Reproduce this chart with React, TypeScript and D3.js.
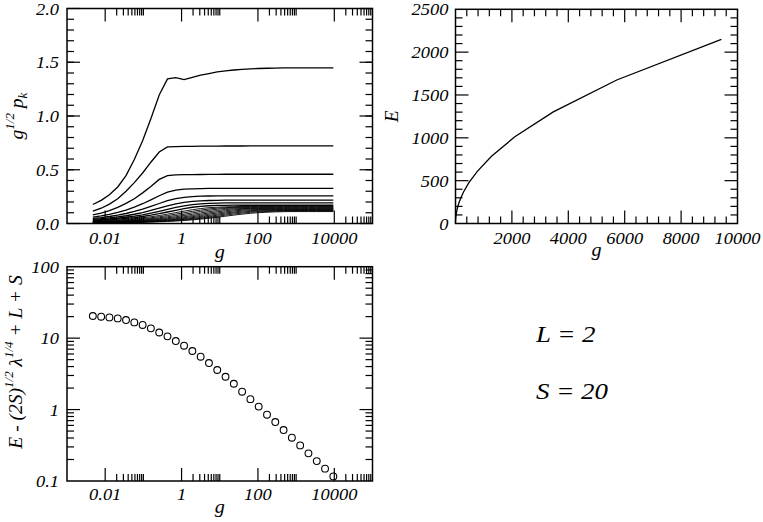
import React, { useEffect, useRef } from 'react';
import * as d3 from 'd3';

// coupling values shared by all three panels
const gValues = [
  0.00475, 0.00784, 0.0129, 0.0213, 0.0351, 0.0579, 0.0955, 0.157, 0.260, 0.428,
  0.706, 1.163, 1.918, 3.162, 5.213, 8.596, 14.17, 23.37, 38.52, 63.52,
  104.7, 172.7, 284.7, 469.4, 773.9, 1276, 2103, 3469, 5718, 9428,
];

// g^{1/2} p_k, one row per k
const pkCurves = [
  [0.177, 0.215, 0.268, 0.340, 0.445, 0.595, 0.770, 0.975, 1.195, 1.345, 1.357, 1.338, 1.360, 1.380, 1.395, 1.410, 1.420, 1.428, 1.434, 1.439, 1.442, 1.444, 1.446, 1.447, 1.447, 1.448, 1.448, 1.448, 1.448, 1.448],
  [0.115, 0.142, 0.180, 0.230, 0.300, 0.380, 0.470, 0.570, 0.665, 0.712, 0.716, 0.717, 0.718, 0.719, 0.720, 0.720, 0.721, 0.721, 0.721, 0.722, 0.722, 0.722, 0.722, 0.722, 0.722, 0.722, 0.722, 0.722, 0.722, 0.722],
  [0.080, 0.097, 0.120, 0.150, 0.187, 0.230, 0.285, 0.345, 0.410, 0.445, 0.452, 0.454, 0.455, 0.456, 0.457, 0.457, 0.458, 0.458, 0.458, 0.458, 0.458, 0.458, 0.458, 0.458, 0.458, 0.458, 0.458, 0.458, 0.458, 0.458],
  [0.060, 0.071, 0.085, 0.103, 0.125, 0.152, 0.184, 0.220, 0.258, 0.292, 0.311, 0.319, 0.323, 0.325, 0.326, 0.326, 0.326, 0.326, 0.326, 0.326, 0.326, 0.326, 0.326, 0.326, 0.326, 0.326, 0.326, 0.326, 0.326, 0.326],
  [0.047, 0.055, 0.065, 0.078, 0.093, 0.112, 0.134, 0.159, 0.186, 0.212, 0.231, 0.243, 0.250, 0.254, 0.256, 0.257, 0.257, 0.257, 0.257, 0.257, 0.257, 0.257, 0.257, 0.257, 0.257, 0.257, 0.257, 0.257, 0.257, 0.257],
  [0.038, 0.044, 0.052, 0.061, 0.072, 0.086, 0.102, 0.121, 0.142, 0.163, 0.182, 0.197, 0.206, 0.211, 0.214, 0.216, 0.217, 0.217, 0.217, 0.217, 0.217, 0.217, 0.217, 0.217, 0.217, 0.217, 0.217, 0.217, 0.217, 0.217],
  [0.031, 0.036, 0.042, 0.049, 0.058, 0.068, 0.081, 0.096, 0.113, 0.131, 0.149, 0.164, 0.176, 0.183, 0.187, 0.190, 0.191, 0.192, 0.192, 0.192, 0.192, 0.192, 0.192, 0.192, 0.192, 0.192, 0.192, 0.192, 0.192, 0.192],
  [0.025, 0.029, 0.034, 0.040, 0.047, 0.055, 0.065, 0.077, 0.091, 0.107, 0.123, 0.138, 0.151, 0.160, 0.165, 0.168, 0.169, 0.170, 0.170, 0.170, 0.170, 0.170, 0.170, 0.170, 0.170, 0.170, 0.170, 0.170, 0.170, 0.170],
  [0.020, 0.023, 0.027, 0.032, 0.038, 0.045, 0.053, 0.063, 0.074, 0.087, 0.101, 0.115, 0.128, 0.139, 0.147, 0.152, 0.155, 0.157, 0.158, 0.158, 0.158, 0.158, 0.158, 0.158, 0.158, 0.158, 0.158, 0.158, 0.158, 0.158],
  [0.017, 0.020, 0.023, 0.027, 0.032, 0.038, 0.045, 0.053, 0.063, 0.074, 0.087, 0.100, 0.113, 0.125, 0.135, 0.143, 0.148, 0.150, 0.151, 0.152, 0.152, 0.152, 0.152, 0.152, 0.152, 0.152, 0.152, 0.152, 0.152, 0.152],
  [0.015, 0.017, 0.020, 0.023, 0.027, 0.032, 0.038, 0.045, 0.053, 0.063, 0.074, 0.086, 0.099, 0.112, 0.123, 0.133, 0.140, 0.144, 0.146, 0.147, 0.147, 0.147, 0.147, 0.147, 0.147, 0.147, 0.147, 0.147, 0.147, 0.147],
  [0.013, 0.015, 0.017, 0.020, 0.023, 0.027, 0.032, 0.038, 0.045, 0.053, 0.063, 0.074, 0.086, 0.098, 0.110, 0.121, 0.130, 0.136, 0.139, 0.140, 0.141, 0.141, 0.141, 0.141, 0.141, 0.141, 0.141, 0.141, 0.141, 0.141],
  [0.011, 0.013, 0.015, 0.017, 0.020, 0.023, 0.027, 0.032, 0.038, 0.045, 0.053, 0.063, 0.074, 0.086, 0.098, 0.109, 0.119, 0.127, 0.132, 0.135, 0.136, 0.136, 0.136, 0.136, 0.136, 0.136, 0.136, 0.136, 0.136, 0.136],
  [0.010, 0.011, 0.013, 0.015, 0.017, 0.020, 0.023, 0.027, 0.032, 0.038, 0.045, 0.054, 0.064, 0.075, 0.087, 0.098, 0.108, 0.117, 0.124, 0.128, 0.130, 0.131, 0.131, 0.131, 0.131, 0.131, 0.131, 0.131, 0.131, 0.131],
  [0.008, 0.009, 0.011, 0.012, 0.014, 0.017, 0.020, 0.023, 0.027, 0.032, 0.038, 0.046, 0.055, 0.065, 0.076, 0.087, 0.098, 0.107, 0.115, 0.120, 0.123, 0.125, 0.126, 0.126, 0.126, 0.126, 0.126, 0.126, 0.126, 0.126],
  [0.007, 0.008, 0.009, 0.010, 0.012, 0.014, 0.016, 0.019, 0.023, 0.027, 0.032, 0.039, 0.047, 0.056, 0.066, 0.077, 0.088, 0.098, 0.106, 0.112, 0.116, 0.119, 0.120, 0.121, 0.121, 0.121, 0.121, 0.121, 0.121, 0.121],
  [0.005, 0.006, 0.007, 0.008, 0.010, 0.011, 0.013, 0.016, 0.019, 0.023, 0.027, 0.033, 0.040, 0.048, 0.057, 0.067, 0.078, 0.088, 0.097, 0.104, 0.109, 0.112, 0.114, 0.115, 0.116, 0.116, 0.116, 0.116, 0.116, 0.116],
  [0.004, 0.005, 0.006, 0.007, 0.008, 0.009, 0.011, 0.013, 0.016, 0.019, 0.023, 0.028, 0.034, 0.041, 0.049, 0.058, 0.068, 0.078, 0.087, 0.095, 0.101, 0.105, 0.108, 0.110, 0.111, 0.111, 0.111, 0.111, 0.111, 0.111],
];

// ground state energy E
const energyValues = [
  2.5, 3.0, 3.6, 4.4, 5.4, 6.6, 8.2, 10.3, 12.9, 16.3,
  20.5, 25.8, 32.5, 41, 52, 66, 84, 107, 137, 175,
  224, 287, 368, 473, 608, 785, 1012, 1303, 1675, 2150,
];

// E - (2S)^{1/2} lambda^{1/4} + L + S
const residualValues = [
  20.4, 19.96, 19.5, 18.9, 17.9, 16.6, 15.3, 13.7, 12.0, 10.6,
  9.11, 7.84, 6.60, 5.50, 4.48, 3.58, 2.88, 2.30, 1.78, 1.40,
  1.10, 0.847, 0.669, 0.517, 0.404, 0.315, 0.244, 0.190, 0.149, 0.116,
];

const logXTicks = [0.01, 1, 100, 10000];
const logXLabels = ['0.01', '1', '100', '10000'];
const pkYTicks = [0, 0.5, 1, 1.5, 2];
const pkYLabels = ['0.0', '0.5', '1.0', '1.5', '2.0'];
const eXTicks = [2000, 4000, 6000, 8000, 10000];
const eXLabels = ['2000', '4000', '6000', '8000', '10000'];
const eYTicks = [0, 500, 1000, 1500, 2000, 2500];
const eYLabels = ['0', '500', '1000', '1500', '2000', '2500'];
const resYTicks = [0.1, 1, 10, 100];
const resYLabels = ['0.1', '1', '10', '100'];
const paramLines = ['L = 2', 'S = 20'];

const MAJOR = 13;
const MINOR = 7;
const STRETCH = 1.12; // the original glyphs are a bit wider than tall
const FONT = '"Liberation Serif"';

// panel boxes
const L = { x0: 67, x1: 372.5, y0: 8.5, y1: 223.5 };
const R = { x0: 455.5, x1: 737.5, y0: 9.3, y1: 223.5 };
const B = { x0: 67, x1: 372.5, y0: 266.7, y1: 481 };

const x1 = d3.scaleLog().domain([0.001, 100000]).range([L.x0, L.x1]);
const y1 = d3.scaleLinear().domain([0, 2]).range([L.y1, L.y0]);
const x2 = d3.scaleLinear().domain([0, 10000]).range([R.x0, R.x1]);
const y2 = d3.scaleLinear().domain([0, 2500]).range([R.y1, R.y0]);
const x3 = d3.scaleLog().domain([0.001, 100000]).range([B.x0, B.x1]);
const y3 = d3.scaleLog().domain([0.1, 100]).range([B.y1, B.y0]);

type Sel = d3.Selection<SVGGElement, unknown, null, undefined>;

function frame(g: Sel, b: typeof L) {
  g.append('rect')
    .attr('x', b.x0).attr('y', b.y0)
    .attr('width', b.x1 - b.x0).attr('height', b.y1 - b.y0)
    .attr('fill', 'none').attr('stroke', '#000').attr('stroke-width', 1.5);
}

function xTicks(g: Sel, sx: (v: number) => number, b: typeof L, vals: number[], len: number) {
  vals.forEach((v) => {
    const x = sx(v);
    g.append('line').attr('x1', x).attr('x2', x).attr('y1', b.y1).attr('y2', b.y1 - len)
      .attr('stroke', '#000').attr('stroke-width', 1.2);
    g.append('line').attr('x1', x).attr('x2', x).attr('y1', b.y0).attr('y2', b.y0 + len)
      .attr('stroke', '#000').attr('stroke-width', 1.2);
  });
}

function yTicks(g: Sel, sy: (v: number) => number, b: typeof L, vals: number[], len: number) {
  vals.forEach((v) => {
    const y = sy(v);
    g.append('line').attr('x1', b.x0).attr('x2', b.x0 + len).attr('y1', y).attr('y2', y)
      .attr('stroke', '#000').attr('stroke-width', 1.2);
    g.append('line').attr('x1', b.x1).attr('x2', b.x1 - len).attr('y1', y).attr('y2', y)
      .attr('stroke', '#000').attr('stroke-width', 1.2);
  });
}

function Label({ x, y, s, anchor = 'middle', size = 16.5 }: { x: number; y: number; s: string; anchor?: string; size?: number }) {
  return (
    <text
      transform={`translate(${x},${y}) scale(${STRETCH},1)`}
      textAnchor={anchor}
      style={{ fontFamily: FONT, fontStyle: 'italic', fontSize: `${size}px` }}
    >
      {s}
    </text>
  );
}

const rotStyle = { fontFamily: FONT, fontStyle: 'italic', fontSize: '19.5px' };
const supStyle = { fontSize: '13px' };

export default function App() {
  const plotRef = useRef<SVGGElement | null>(null);

  useEffect(() => {
    if (!plotRef.current) return;
    const root = d3.select(plotRef.current) as Sel;
    root.selectAll('*').remove();

    const logMinors = [0.0001, 0.01, 1, 100, 10000]
      .flatMap((m) => d3.range(2, 11).map((k) => m * k))
      .filter((v) => v > 0.001 && v < 100000);

    // top left: g^{1/2} p_k vs g
    const g1 = root.append('g') as Sel;
    const line1 = d3.line<number>().x((_, i) => x1(gValues[i])).y((d) => y1(d));
    pkCurves.forEach((c, k) => {
      g1.append('path').attr('d', line1(c) || '').attr('fill', 'none')
        .attr('stroke', '#000').attr('stroke-width', k < 8 ? 1.3 : 0.9);
    });
    frame(g1, L);
    xTicks(g1, x1, L, logXTicks, MAJOR);
    xTicks(g1, x1, L, logMinors, MINOR);
    yTicks(g1, y1, L, pkYTicks, MAJOR);
    yTicks(g1, y1, L, d3.range(0.1, 2, 0.1), MINOR);

    // top right: E vs g
    const g2 = root.append('g') as Sel;
    const line2 = d3.line<number>().x((_, i) => x2(gValues[i])).y((d) => y2(d));
    g2.append('path').attr('d', line2(energyValues) || '').attr('fill', 'none')
      .attr('stroke', '#000').attr('stroke-width', 1.3);
    frame(g2, R);
    xTicks(g2, x2, R, d3.range(2000, 10000, 2000), MAJOR);
    xTicks(g2, x2, R, d3.range(400, 10000, 400).filter((v) => v % 2000 !== 0), MINOR);
    yTicks(g2, y2, R, d3.range(500, 2500, 500), MAJOR);
    yTicks(g2, y2, R, d3.range(100, 2500, 100).filter((v) => v % 500 !== 0), MINOR);

    // bottom left: residual vs g
    const g3 = root.append('g') as Sel;
    g3.selectAll('circle').data(residualValues).enter().append('circle')
      .attr('cx', (_, i) => x3(gValues[i])).attr('cy', (d) => y3(d)).attr('r', 3.4)
      .attr('fill', 'none').attr('stroke', '#000').attr('stroke-width', 1.1);
    frame(g3, B);
    xTicks(g3, x3, B, logXTicks, MAJOR);
    xTicks(g3, x3, B, logMinors, MINOR);
    yTicks(g3, y3, B, [1, 10], MAJOR);
    yTicks(g3, y3, B, [0.1, 1, 10].flatMap((m) => d3.range(2, 10).map((k) => m * k)), MINOR);
  }, []);

  return (
    <svg width={763} height={522} style={{ position: 'absolute', left: 0, top: 0, background: '#fff' }}>
      <g ref={plotRef} />
      <g>
        {logXTicks.map((v, i) => (
          <Label key={`l1x${i}`} x={x1(v)} y={L.y1 + 20} s={logXLabels[i]} />
        ))}
        {pkYTicks.map((v, i) => (
          <Label key={`l1y${i}`} x={L.x0 - 8} y={y1(v) + 6} s={pkYLabels[i]} anchor="end" />
        ))}
        <Label x={(L.x0 + L.x1) / 2} y={258} s="g" size={18} />
        <text transform={`translate(23,${(L.y0 + L.y1) / 2}) rotate(-90)`} textAnchor="middle" style={rotStyle}>
          g<tspan dy={-9} style={supStyle}>1/2</tspan>
          <tspan dy={9}> p</tspan>
          <tspan dy={4} style={supStyle}>k</tspan>
        </text>

        {eXTicks.map((v, i) => (
          <Label key={`l2x${i}`} x={x2(v)} y={R.y1 + 20} s={eXLabels[i]} />
        ))}
        {eYTicks.map((v, i) => (
          <Label key={`l2y${i}`} x={R.x0 - 7} y={y2(v) + 6} s={eYLabels[i]} anchor="end" />
        ))}
        <Label x={(R.x0 + R.x1) / 2} y={256} s="g" size={18} />
        <text transform={`translate(398,${(R.y0 + R.y1) / 2}) rotate(-90)`} textAnchor="middle" style={rotStyle}>
          E
        </text>

        {logXTicks.map((v, i) => (
          <Label key={`l3x${i}`} x={x3(v)} y={B.y1 + 19} s={logXLabels[i]} />
        ))}
        {resYTicks.map((v, i) => (
          <Label key={`l3y${i}`} x={B.x0 - 8} y={y3(v) + 6} s={resYLabels[i]} anchor="end" />
        ))}
        <Label x={(B.x0 + B.x1) / 2} y={513} s="g" size={18} />
        <text transform="translate(22,362) rotate(-90)" textAnchor="middle" style={rotStyle}>
          E - (2S)<tspan dy={-9} style={supStyle}>1/2</tspan>
          <tspan dy={9}> {'\u03bb'}</tspan>
          <tspan dy={-9} style={supStyle}>1/4</tspan>
          <tspan dy={9}> + L + S</tspan>
        </text>

        {paramLines.map((s, i) => (
          <Label key={`p${i}`} x={536} y={342 + i * 57} s={s} anchor="start" size={24} />
        ))}
      </g>
    </svg>
  );
}
